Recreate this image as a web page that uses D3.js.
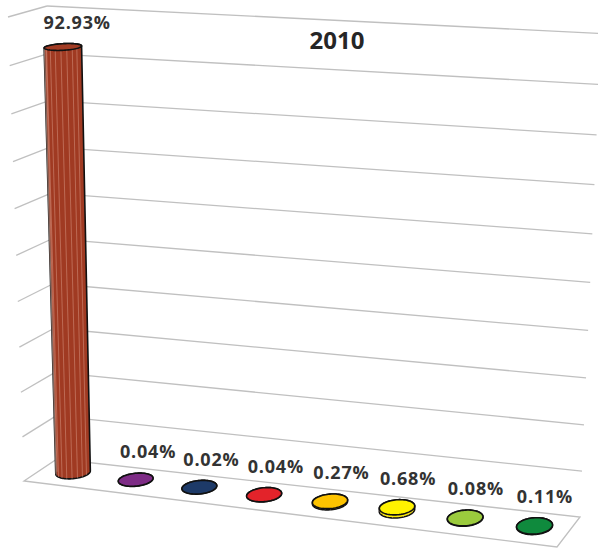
<!DOCTYPE html>
<html>
<head>
<meta charset="utf-8">
<script src="https://cdn.jsdelivr.net/npm/d3@7"></script>
<style>
  html, body { margin: 0; padding: 0; background: #fff; }
  svg { display: block; }
</style>
</head>
<body>
<svg id="chart" width="598" height="548"></svg>
<script>
// ---- data ----
const title = "2010";
const categories = ["1", "2", "3", "4", "5", "6", "7", "8"];
const values = [92.93, 0.04, 0.02, 0.04, 0.27, 0.68, 0.08, 0.11];
const valueTicks = [0, 10, 20, 30, 40, 50, 60, 70, 80, 90, 100];

// ---- styles ----
const bodyColors = ["#a03a22", "#7a2a82", "#1c3966", "#e02128", "#f0aa00", "#fff000", "#97c83a", "#19a24a"];
const topColors  = ["#a23c24", "#7e2c86", "#1d3a68", "#e3232a", "#fdc300", "#fff200", "#9bcb3d", "#0f8a3d"];
const gridColor = "#c0c0c0";

// ---- perspective box ----
// planar homography from the unit square onto a quad [p00, p10, p11, p01]
function homography(q) {
  const [x0, y0] = q[0], [x1, y1] = q[1], [x2, y2] = q[2], [x3, y3] = q[3];
  const dx1 = x1 - x2, dx2 = x3 - x2, dx3 = x0 - x1 + x2 - x3;
  const dy1 = y1 - y2, dy2 = y3 - y2, dy3 = y0 - y1 + y2 - y3;
  const den = dx1 * dy2 - dx2 * dy1;
  const g = (dx3 * dy2 - dx2 * dy3) / den;
  const h = (dx1 * dy3 - dx3 * dy1) / den;
  const a = x1 - x0 + g * x1, b = x3 - x0 + h * x3, c = x0;
  const d = y1 - y0 + g * y1, e = y3 - y0 + h * y3, f = y0;
  return (u, v) => {
    const w = g * u + h * v + 1;
    return [(a * u + b * v + c) / w, (d * u + e * v + f) / w];
  };
}

// (category, value) plane at the back wall and at the front of the box
const backPlane  = homography([[57, 459], [580, 517], [601, 33.5], [47, 6]]);
const frontPlane = homography([[24, 481], [557, 547], [572, 52.5], [8, 17]]);

// u: 0..1 across categories, v: 0..1 up the value axis, z: 0 front .. 1 back
function project(u, v, z) {
  const f = frontPlane(u, v), b = backPlane(u, v);
  return [f[0] + (b[0] - f[0]) * z, f[1] + (b[1] - f[1]) * z];
}

const xScale = d3.scaleBand().domain(categories).range([0, 1]);
const vScale = d3.scaleLinear().domain([0, 100]).range([0, 1]);

const svg = d3.select("#chart");
const line = d3.line();

// ---- walls and floor ----
const grid = svg.append("g")
  .attr("fill", "none")
  .attr("stroke", gridColor)
  .attr("stroke-width", 1.3);

valueTicks.filter(t => t > 0).forEach(t => {
  const v = vScale(t);
  grid.append("path").attr("d", line([project(0, v, 1), project(1, v, 1)]));
  grid.append("path").attr("d", line([project(0, v, 0), project(0, v, 1)]));
});

grid.append("path")
  .attr("d", line([project(0, 0, 0), project(0, 0, 1), project(1, 0, 1), project(1, 0, 0)]) + "Z");

// ---- cylinders ----
const zc = 0.55, ru = 0.03, rz = 0.27, N = 72;

function ring(uc, v) {
  return d3.range(N).map(k => {
    const a = 2 * Math.PI * k / N;
    return project(uc + ru * Math.cos(a), v, zc + rz * Math.sin(a));
  });
}

const bars = svg.append("g");

categories.forEach((cat, i) => {
  const uc = xScale(cat) + xScale.bandwidth() / 2;
  const vTop = vScale(values[i]);
  const bottom = ring(uc, 0);
  const top = ring(uc, vTop);
  const g = bars.append("g");

  const hull = d3.polygonHull(bottom.concat(top));
  g.append("path")
    .attr("d", line(hull) + "Z")
    .attr("fill", bodyColors[i])
    .attr("stroke", "#111")
    .attr("stroke-width", 1.6)
    .attr("stroke-linejoin", "round");

  // light vertical streaks on the visible side of the body
  const nStreak = 10;
  for (let k = 0; k < nStreak; k++) {
    const a = Math.PI + Math.PI * (k + 0.5) / nStreak;
    const p0 = project(uc + ru * Math.cos(a), 0, zc + rz * Math.sin(a));
    const p1 = project(uc + ru * Math.cos(a), vTop, zc + rz * Math.sin(a));
    g.append("path")
      .attr("d", line([p0, p1]))
      .attr("stroke", "#f2c2b0")
      .attr("stroke-opacity", 0.4)
      .attr("stroke-width", 0.9);
  }

  g.append("path")
    .attr("d", line(top) + "Z")
    .attr("fill", topColors[i])
    .attr("stroke", "#111")
    .attr("stroke-width", 1.6);
});

// ---- value labels: anchored above the back rim of each top ----
const fmt = d3.format(".2f");
const labelAnchor = (c, i) => project(xScale(c) + xScale.bandwidth() / 2, vScale(values[i]), zc + rz);
svg.append("g")
  .selectAll("text")
  .data(categories)
  .join("text")
  .attr("x", (c, i) => labelAnchor(c, i)[0] + 4)
  .attr("y", (c, i) => labelAnchor(c, i)[1] - 15)
  .attr("text-anchor", "middle")
  .attr("font-family", "'Open Sans', 'Noto Sans', sans-serif")
  .attr("font-weight", "bold")
  .attr("font-size", 18)
  .attr("letter-spacing", "0.8px")
  .attr("fill", "#333")
  .text((c, i) => fmt(values[i]) + "%");

// ---- title ----
svg.append("text")
  .attr("x", 337)
  .attr("y", 49)
  .attr("text-anchor", "middle")
  .attr("font-family", "'Open Sans', 'Noto Sans', sans-serif")
  .attr("font-weight", "bold")
  .attr("font-size", 24)
  .attr("fill", "#262626")
  .text(title);
</script>
</body>
</html>
